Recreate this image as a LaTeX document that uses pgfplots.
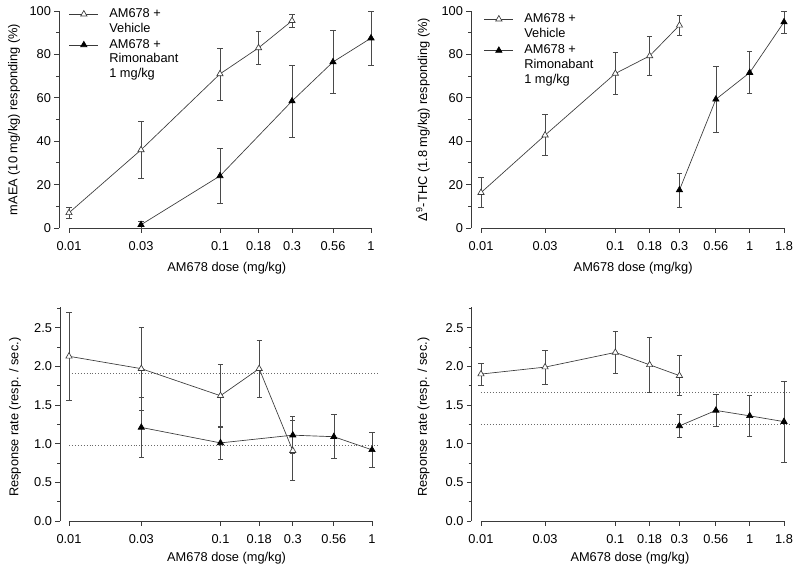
\documentclass[border=0pt]{standalone}
\usepackage{fontspec}
\setmainfont{Liberation Sans}
\usepackage{pgfplots}
\pgfplotsset{compat=1.18}
\definecolor{lc}{HTML}{3A3A3A}
\definecolor{ec}{HTML}{4A4A4A}
\definecolor{dc}{HTML}{6A6A6A}
\newcommand{\myfont}{\fontsize{9.6}{10.9}\selectfont}
\pgfplotsset{
  every axis/.append style={
    scale only axis, axis lines=left,
    axis line style={-, draw=lc, line width=0.6pt},
    tick align=outside, tick style={draw=lc, line width=0.6pt},
    major tick length=3.5pt, minor tick length=2.2pt,
    clip=false,
    ticklabel style={font=\myfont},
    xticklabel style={yshift=-3.5pt},
    yticklabel style={xshift=1pt},
    label style={font=\myfont},
  },
  vehstyle/.style={color=lc, line width=0.5pt, mark=triangle*, mark size=2.7pt,
    mark options={fill=white, draw=lc, solid, line width=0.5pt},
    legend image code/.code={\draw[mark repeat=2,mark phase=2,yshift=5.45pt] plot coordinates {(0pt,0pt)(10.9pt,0pt)(21.75pt,0pt)};},
    error bars/.cd, y dir=both, y explicit,
    error bar style={line width=0.5pt, color=ec},
    error mark options={rotate=90, mark size=2pt, line width=0.5pt, color=ec}},
  rimstyle/.style={color=lc, line width=0.5pt, mark=triangle*, mark size=2.7pt,
    mark options={fill=black, draw=black, solid, line width=0.5pt},
    legend image code/.code={\draw[mark repeat=2,mark phase=2,yshift=10.9pt] plot coordinates {(0pt,0pt)(10.9pt,0pt)(21.75pt,0pt)};},
    error bars/.cd, y dir=both, y explicit,
    error bar style={line width=0.5pt, color=ec},
    error mark options={rotate=90, mark size=2pt, line width=0.5pt, color=ec}},
  refstyle/.style={color=dc, line width=0.6pt, dash pattern=on 0.6pt off 1.6pt, no marks, forget plot},
}
\begin{document}
\begin{tikzpicture}
\useasboundingbox (0,0) rectangle (600pt,429pt);
% ---------------- top left
\begin{axis}[at={(44.25pt,258pt)}, anchor=south west,
  width=234pt, height=162.75pt, xmode=log,
  xmin=0.00859, xmax=1, ymin=0, ymax=100,
  x axis line style={shorten <=7.5pt},
  xtick={0.01,0.03,0.1,0.18,0.3,0.56,1},
  xticklabels={0.01,0.03,0.1,0.18,0.3,0.56,1},
  minor xtick={},
  ytick={0,20,40,60,80,100}, yticklabels={0,20,40,60,80,100},
  minor ytick={10,30,50,70,90},
  xlabel={AM678 dose (mg/kg)},
  xlabel style={at={(axis description cs:0.538,0)}, anchor=center, yshift=-30pt},
  ylabel={mAEA (10 mg/kg) responding (\%)},
  ylabel style={at={(axis description cs:0,0.5)}, anchor=center, yshift=33.75pt},
  legend style={at={(axis description cs:0.032,1.023)}, anchor=north west,
    draw=none, fill=none, font=\myfont, inner sep=0pt, outer sep=0pt,
    cells={anchor=west, align=left, inner xsep=0pt}, row sep=0pt, column sep=6pt},
]
\addplot[vehstyle] coordinates {(0.01,7) +- (0,2.5) (0.03,36) +- (0,13) (0.1,71) +- (0,12) (0.18,83) +- (0,7.5) (0.3,95.5) +- (0,3)};
\addlegendentry{AM678 +\\Vehicle}
\addplot[rimstyle] coordinates {(0.03,1.5) +- (0,1.5) (0.1,24) +- (0,12.5) (0.3,58.5) +- (0,16.5) (0.56,76.5) +- (0,14.5) (1,87.5) +- (0,12.5)};
\addlegendentry{AM678 +\\Rimonabant\\1 mg/kg}
\end{axis}
% ---------------- top right
\begin{axis}[at={(353.25pt,258pt)}, anchor=south west,
  width=234.75pt, height=162.75pt, xmode=log,
  xmin=0.008425, xmax=1.8, ymin=0, ymax=100,
  x axis line style={shorten <=7.5pt},
  xtick={0.01,0.03,0.1,0.18,0.3,0.56,1,1.8},
  xticklabels={0.01,0.03,0.1,0.18,0.3,0.56,1,1.8},
  minor xtick={},
  ytick={0,20,40,60,80,100}, yticklabels={0,20,40,60,80,100},
  minor ytick={10,30,50,70,90},
  xlabel={AM678 dose (mg/kg)},
  xlabel style={at={(axis description cs:0.518,0)}, anchor=center, yshift=-30pt},
  ylabel={Δ\textsuperscript{9}-THC (1.8 mg/kg) responding (\%)},
  ylabel style={at={(axis description cs:0,0.5)}, anchor=center, yshift=36pt},
  legend style={at={(axis description cs:0.0415,1.0)}, anchor=north west,
    draw=none, fill=none, font=\myfont, inner sep=0pt, outer sep=0pt,
    cells={anchor=west, align=left, inner xsep=0pt}, row sep=0.4pt, column sep=6pt},
]
\addplot[vehstyle] coordinates {(0.01,16.3) +- (0,7) (0.03,42.8) +- (0,9.4) (0.1,71.2) +- (0,9.7) (0.18,79.3) +- (0,9) (0.3,93.4) +- (0,4.5)};
\addlegendentry{AM678 +\\Vehicle}
\addplot[rimstyle] coordinates {(0.3,17.5) +- (0,7.8) (0.56,59.3) +- (0,15.4) (1,71.6) +- (0,9.7) (1.8,94.9) +- (0,5)};
\addlegendentry{AM678 +\\Rimonabant\\1 mg/kg}
\end{axis}
% ---------------- bottom left
\begin{axis}[at={(45pt,38.25pt)}, anchor=south west,
  width=234pt, height=160.65pt, xmode=log,
  xmin=0.00872, xmax=1, ymin=0, ymax=2.77,
  x axis line style={shorten <=6.75pt},
  xtick={0.01,0.03,0.1,0.18,0.3,0.56,1},
  xticklabels={0.01,0.03,0.1,0.18,0.3,0.56,1},
  minor xtick={},
  ytick={0,0.5,1,1.5,2,2.5}, yticklabels={0.0,0.5,1.0,1.5,2.0,2.5},
  minor ytick={0.25,0.75,1.25,1.75,2.25,2.75},
  xlabel={AM678 dose (mg/kg)},
  xlabel style={at={(axis description cs:0.534,0)}, anchor=center, yshift=-28.2pt},
  ylabel={Response rate (resp. / sec.)},
  ylabel style={at={(axis description cs:0,0.5)}, anchor=center, yshift=33.75pt, xshift=-2.5pt},
]
\addplot[refstyle] coordinates {(0.01,1.905) (1.08,1.905)};
\addplot[refstyle] coordinates {(0.01,0.98) (1.08,0.98)};
\addplot[vehstyle] coordinates {(0.01,2.13) +- (0,0.565) (0.03,1.97) +- (0,0.535) (0.1,1.62) +- (0,0.405) (0.18,1.97) +- (0,0.37) (0.3,0.91) +- (0,0.39)};
\addplot[rimstyle] coordinates {(0.03,1.21) +- (0,0.39) (0.1,1.01) +- (0,0.21) (0.3,1.11) +- (0,0.24) (0.56,1.09) +- (0,0.285) (1,0.92) +- (0,0.23)};
\end{axis}
% ---------------- bottom right
\begin{axis}[at={(353.6pt,38.25pt)}, anchor=south west,
  width=234.4pt, height=160.65pt, xmode=log,
  xmin=0.0085, xmax=1.8, ymin=0, ymax=2.77,
  x axis line style={shorten <=7.1pt},
  xtick={0.01,0.03,0.1,0.18,0.3,0.56,1,1.8},
  xticklabels={0.01,0.03,0.1,0.18,0.3,0.56,1,1.8},
  minor xtick={},
  ytick={0,0.5,1,1.5,2,2.5}, yticklabels={0.0,0.5,1.0,1.5,2.0,2.5},
  minor ytick={0.25,0.75,1.25,1.75,2.25,2.75},
  xlabel={AM678 dose (mg/kg)},
  xlabel style={at={(axis description cs:0.507,0)}, anchor=center, yshift=-28.2pt},
  ylabel={Response rate (resp. / sec.)},
  ylabel style={at={(axis description cs:0,0.5)}, anchor=center, yshift=36pt, xshift=-2.5pt},
]
\addplot[refstyle] coordinates {(0.01,1.66) (1.99,1.66)};
\addplot[refstyle] coordinates {(0.01,1.25) (1.99,1.25)};
\addplot[vehstyle] coordinates {(0.01,1.90) +- (0,0.14) (0.03,1.99) +- (0,0.22) (0.1,2.18) +- (0,0.27) (0.18,2.02) +- (0,0.35) (0.3,1.88) +- (0,0.26)};
\addplot[rimstyle] coordinates {(0.3,1.23) +- (0,0.15) (0.56,1.43) +- (0,0.21) (1,1.36) +- (0,0.27) (1.8,1.285) +- (0,0.52)};
\end{axis}
\end{tikzpicture}
\end{document}
